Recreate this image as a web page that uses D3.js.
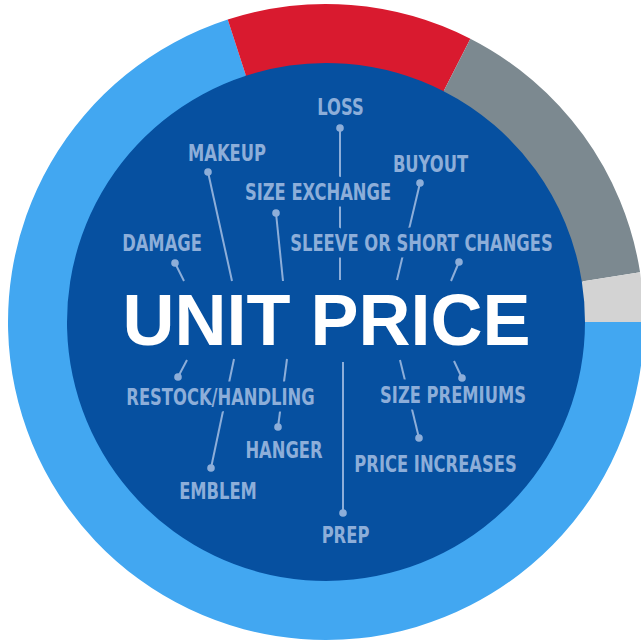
<!DOCTYPE html>
<html lang="en">
<meta charset="utf-8">
<head>
    <script src="https://d3js.org/d3.v7.min.js"></script>
</head>
<body style="margin:0;background:#fff;">
<svg width="641" height="643"></svg>
</body>

<script>
// ring shares (percent of the whole), starting at 3 o'clock going clockwise
var shares = [70, 12.5, 15, 2.5];
var shareColors = ["#42a7f1", "#d91a2f", "#7c8990", "#d3d3d3"];

// title in the middle
var title = "UNIT PRICE";

// cost factors around the title
var factors = ["LOSS", "MAKEUP", "SIZE EXCHANGE", "BUYOUT", "DAMAGE",
    "SLEEVE OR SHORT CHANGES", "RESTOCK/HANDLING", "HANGER", "EMBLEM",
    "SIZE PREMIUMS", "PRICE INCREASES", "PREP"];

// where each factor label sits: text centre + baseline, dot, line end
var layout = {
    "LOSS":                    { tx: 340.5, ty: 115, dot: [340, 128], end: [340, 280] },
    "MAKEUP":                  { tx: 227,   ty: 161, dot: [208, 172], end: [232, 281] },
    "SIZE EXCHANGE":           { tx: 318,   ty: 200, dot: [276, 213], end: [283, 281] },
    "BUYOUT":                  { tx: 430.5, ty: 172, dot: [420, 183], end: [397, 280] },
    "DAMAGE":                  { tx: 162,   ty: 251, dot: [175, 263], end: [184, 281] },
    "SLEEVE OR SHORT CHANGES": { tx: 421.5, ty: 251, dot: [459, 262], end: [451, 281] },
    "RESTOCK/HANDLING":        { tx: 220.5, ty: 405, dot: [178, 377], end: [187, 360] },
    "HANGER":                  { tx: 284,   ty: 458, dot: [278, 427], end: [287, 359] },
    "EMBLEM":                  { tx: 218,   ty: 499, dot: [211, 468], end: [234, 359] },
    "SIZE PREMIUMS":           { tx: 453,   ty: 403, dot: [462, 378], end: [454, 361] },
    "PRICE INCREASES":         { tx: 435.5, ty: 472, dot: [419, 438], end: [400, 360] },
    "PREP":                    { tx: 345.5, ty: 543, dot: [343, 513], end: [343, 362] }
};

var svg = d3.select("svg");
var cx = 326, cy = 322;
var outerR = 318, innerR = 259;
var bg = "#0650a0";
var ink = "#8daed9";
var squeeze = 0.79; // condensed look for the small labels

var g = svg.append("g")
    .attr("transform", "translate(" + cx + "," + cy + ")");

// dark centre disc
g.append("circle")
    .attr("r", innerR + 1)
    .attr("fill", bg);

// outer ring
var pie = d3.pie()
    .sort(null)
    .startAngle(Math.PI / 2)
    .endAngle(Math.PI / 2 + 2 * Math.PI);
var arc = d3.arc().innerRadius(innerR).outerRadius(outerR);

g.selectAll(".slice")
    .data(pie(shares))
    .enter().append("path")
    .attr("class", "slice")
    .attr("d", arc)
    .attr("fill", function(d, i) { return shareColors[i]; });

// connector lines
svg.selectAll(".link")
    .data(factors)
    .enter().append("line")
    .attr("class", "link")
    .attr("x1", function(d) { return layout[d].dot[0]; })
    .attr("y1", function(d) { return layout[d].dot[1]; })
    .attr("x2", function(d) { return layout[d].end[0]; })
    .attr("y2", function(d) { return layout[d].end[1]; })
    .attr("stroke", ink)
    .attr("stroke-width", 2);

// labels, with a halo in the background colour so lines break around them
svg.selectAll(".factor")
    .data(factors)
    .enter().append("text")
    .attr("class", "factor")
    .attr("transform", function(d) {
        return "translate(" + layout[d].tx + "," + layout[d].ty + ") scale(" + squeeze + ",1)";
    })
    .attr("text-anchor", "middle")
    .attr("font-family", "'DejaVu Sans Condensed', 'DejaVu Sans', sans-serif")
    .attr("font-weight", "bold")
    .attr("font-size", "23px")
    .attr("fill", ink)
    .attr("stroke", bg)
    .attr("stroke-width", 13)
    .attr("stroke-linejoin", "round")
    .attr("paint-order", "stroke")
    .text(function(d) { return d; });

// dots at the label end
svg.selectAll(".dot")
    .data(factors)
    .enter().append("circle")
    .attr("class", "dot")
    .attr("cx", function(d) { return layout[d].dot[0]; })
    .attr("cy", function(d) { return layout[d].dot[1]; })
    .attr("r", 3.8)
    .attr("fill", ink);

// big title
svg.append("text")
    .attr("x", 326.5)
    .attr("y", 345)
    .attr("text-anchor", "middle")
    .attr("font-family", "'Liberation Sans', Arial, sans-serif")
    .attr("font-weight", "bold")
    .attr("font-size", "72px")
    .attr("fill", "#ffffff")
    .text(title);
</script>
